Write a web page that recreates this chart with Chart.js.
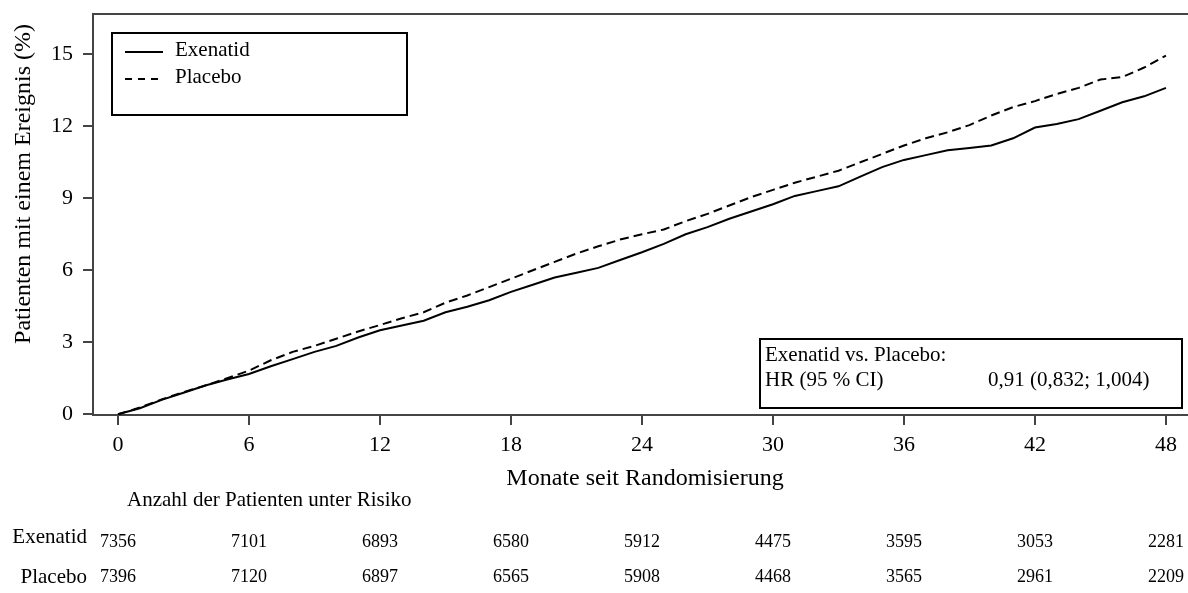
<!DOCTYPE html>
<html>
<head>
<meta charset="utf-8">
<title>Kaplan-Meier Exenatid vs. Placebo</title>
<script src="https://cdn.jsdelivr.net/npm/chart.js@4.4.1/dist/chart.umd.min.js"></script>
<style>
  html, body { margin: 0; padding: 0; background: #fff; }
  #wrap { width: 1188px; height: 593px; }
</style>
</head>
<body>
<div id="wrap"><canvas id="kmChart" width="1188" height="593"></canvas></div>
<script>
// Monate seit Randomisierung und kumulativer Anteil mit Ereignis (%)
const months = [0, 1, 2, 3, 4, 5, 6, 7, 8, 9, 10, 11, 12, 13, 14, 15, 16, 17, 18, 19, 20, 21, 22, 23, 24,
                25, 26, 27, 28, 29, 30, 31, 32, 33, 34, 35, 36, 37, 38, 39, 40, 41, 42, 43, 44, 45, 46, 47, 48];
const exenatid = [0, 0.25, 0.6, 0.9, 1.2, 1.45, 1.68, 2.0, 2.3, 2.6, 2.85, 3.2, 3.5, 3.7, 3.9, 4.25, 4.48,
                  4.75, 5.1, 5.4, 5.7, 5.9, 6.1, 6.43, 6.75, 7.1, 7.5, 7.8, 8.15, 8.45, 8.75, 9.1, 9.3, 9.5,
                  9.9, 10.3, 10.6, 10.8, 11.0, 11.1, 11.2, 11.5, 11.95, 12.1, 12.3, 12.65, 13.0, 13.25, 13.6];
const placebo = [0, 0.28, 0.62, 0.92, 1.2, 1.5, 1.82, 2.25, 2.6, 2.85, 3.15, 3.45, 3.72, 4.0, 4.25, 4.65,
                 4.95, 5.3, 5.65, 6.0, 6.35, 6.7, 7.0, 7.28, 7.5, 7.7, 8.05, 8.35, 8.7, 9.05, 9.35, 9.65, 9.9,
                 10.15, 10.5, 10.85, 11.2, 11.5, 11.75, 12.05, 12.45, 12.8, 13.05, 13.35, 13.6, 13.95, 14.05,
                 14.45, 14.95];

// Achsen
const xTicks = [0, 6, 12, 18, 24, 30, 36, 42, 48];
const yTicks = [0, 3, 6, 9, 12, 15];

// Anzahl der Patienten unter Risiko (an den x-Ticks)
const riskGroups = ['Exenatid', 'Placebo'];
const riskExenatid = [7356, 7101, 6893, 6580, 5912, 4475, 3595, 3053, 2281];
const riskPlacebo = [7396, 7120, 6897, 6565, 5908, 4468, 3565, 2961, 2209];

const hrLines = ['Exenatid vs. Placebo:', 'HR (95 % CI)', '0,91 (0,832; 1,004)'];

const SERIF = '"Liberation Serif", "Times New Roman", serif';
const AXIS = '#444';

function toPoints(values) {
    return months.map((m, i) => ({ x: m, y: values[i] }));
}

// Rahmen oben, Achsentitel, Legende, HR-Box und Risikotabelle
const extras = {
    id: 'extras',
    afterDraw(chart) {
        const ctx = chart.ctx;
        const area = chart.chartArea;
        const xs = chart.scales.x;
        ctx.save();

        ctx.strokeStyle = AXIS;
        ctx.lineWidth = 2;
        ctx.beginPath();
        ctx.moveTo(area.left - 1, area.top);
        ctx.lineTo(area.right, area.top);
        ctx.stroke();

        ctx.fillStyle = '#000';

        // y-Titel
        ctx.save();
        ctx.font = '24px ' + SERIF;
        ctx.translate(24, 184);
        ctx.rotate(-Math.PI / 2);
        ctx.textAlign = 'center';
        ctx.textBaseline = 'middle';
        ctx.fillText('Patienten mit einem Ereignis (%)', 0, 0);
        ctx.restore();

        // x-Titel
        ctx.font = '24px ' + SERIF;
        ctx.textAlign = 'center';
        ctx.textBaseline = 'alphabetic';
        ctx.fillText('Monate seit Randomisierung', 645, 485);

        // Legende
        ctx.lineWidth = 2;
        ctx.strokeStyle = '#000';
        ctx.strokeRect(112, 33, 295, 82);
        ctx.font = '21px ' + SERIF;
        ctx.textAlign = 'left';
        ctx.textBaseline = 'middle';
        chart.data.datasets.forEach((ds, i) => {
            const y = 52 + i * 27;
            ctx.setLineDash([8, 6].length && ds.borderDash ? [7, 6] : []);
            ctx.beginPath();
            ctx.moveTo(125, y);
            ctx.lineTo(163, y);
            ctx.stroke();
            ctx.setLineDash([]);
            ctx.fillText(ds.label, 175, y - 2);
        });

        // HR-Box
        ctx.strokeRect(760, 339, 422, 69);
        ctx.fillText(hrLines[0], 765, 355);
        ctx.fillText(hrLines[1], 765, 380);
        ctx.fillText(hrLines[2], 988, 380);

        // Risikotabelle
        ctx.fillText('Anzahl der Patienten unter Risiko', 127, 500);
        ctx.textAlign = 'right';
        ctx.fillText(riskGroups[0], 87, 537);
        ctx.fillText(riskGroups[1], 87, 577);
        ctx.font = '18px ' + SERIF;
        ctx.textAlign = 'center';
        xTicks.forEach((m, i) => {
            const px = xs.getPixelForValue(m);
            ctx.fillText(String(riskExenatid[i]), px, 542);
            ctx.fillText(String(riskPlacebo[i]), px, 577);
        });

        ctx.restore();
    }
};

document.addEventListener('DOMContentLoaded', function() {
    const ctx = document.getElementById('kmChart').getContext('2d');
    new Chart(ctx, {
        type: 'line',
        data: {
            datasets: [{
                label: 'Exenatid',
                data: toPoints(exenatid),
                borderColor: '#000',
                borderWidth: 2,
                pointRadius: 0,
                tension: 0
            }, {
                label: 'Placebo',
                data: toPoints(placebo),
                borderColor: '#000',
                borderWidth: 2,
                borderDash: [9, 5],
                pointRadius: 0,
                tension: 0
            }]
        },
        options: {
            responsive: false,
            animation: false,
            devicePixelRatio: 1,
            layout: { padding: { top: 14, right: 0, left: 0, bottom: 0 } },
            plugins: {
                legend: { display: false },
                tooltip: { enabled: false }
            },
            scales: {
                x: {
                    type: 'linear',
                    min: -1.145,
                    max: 49.01,
                    afterBuildTicks: s => { s.ticks = xTicks.map(v => ({ value: v })); },
                    afterFit: s => { s.height = 178; s.paddingLeft = 0; s.paddingRight = 0; },
                    grid: { drawOnChartArea: false, tickLength: 10, color: AXIS, lineWidth: 2 },
                    border: { color: AXIS, width: 2 },
                    ticks: {
                        font: { family: SERIF, size: 22 },
                        color: '#000',
                        padding: 7,
                        maxRotation: 0,
                        autoSkip: false
                    }
                },
                y: {
                    min: -0.03,
                    max: 16.68,
                    afterBuildTicks: s => { s.ticks = yTicks.map(v => ({ value: v })); },
                    afterFit: s => { s.width = 93; s.paddingTop = 0; s.paddingBottom = 0; },
                    grid: { drawOnChartArea: false, tickLength: 10, color: AXIS, lineWidth: 2 },
                    border: { color: AXIS, width: 2 },
                    ticks: {
                        font: { family: SERIF, size: 22 },
                        color: '#000',
                        padding: 10,
                        autoSkip: false
                    }
                }
            }
        },
        plugins: [extras]
    });
});
</script>
</body>
</html>
